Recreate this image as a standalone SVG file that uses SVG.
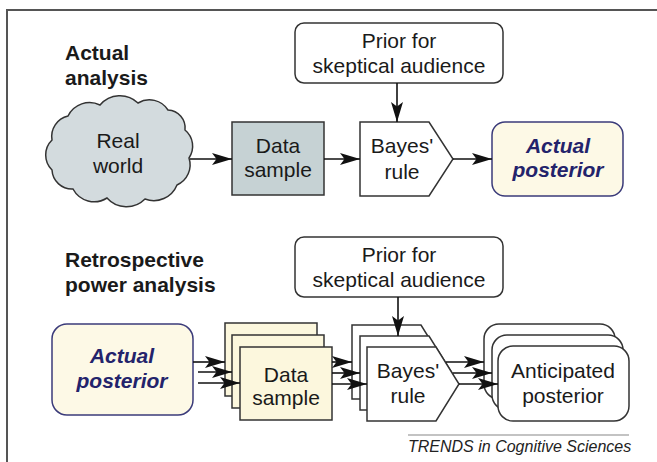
<svg xmlns="http://www.w3.org/2000/svg" width="657" height="462" viewBox="0 0 657 462">
<defs>
<marker id="ah" markerUnits="userSpaceOnUse" markerWidth="22" markerHeight="14" refX="20" refY="6" orient="auto">
<path d="M0,0 L20,6 L0,12 L4.5,6 z" fill="#111"/>
</marker>
<style>
text{font-family:"Liberation Sans",Arial,sans-serif;font-size:21px;fill:#1a1a1a;text-anchor:middle}
.h{font-weight:bold;text-anchor:start}
.ap{font-weight:bold;font-style:italic;fill:#23236b}
.box{stroke:#333;stroke-width:1.5}
.w{fill:#fff}
.gy{fill:#c6d2d4}
.yl{fill:#fcf7dd}
.post{fill:#fdf9e6;stroke:#3b3b7a;stroke-width:1.5}
.c line{stroke:#111;stroke-width:1.6;marker-end:url(#ah)}
.foot{font-size:16px;font-style:italic;text-anchor:start;fill:#222}
</style>
</defs>
<rect width="657" height="462" fill="#fff"/>
<rect x="7" y="10" width="670" height="470" fill="none" stroke="#555" stroke-width="2"/>

<text class="h" x="65" y="60">Actual</text>
<text class="h" x="65" y="85">analysis</text>
<text class="h" x="65" y="267">Retrospective</text>
<text class="h" x="65" y="292">power analysis</text>

<g id="cloud">
<path class="box" fill="#d3dbde" d="M52,140 A21,21 0 0 1 68,116 A24,24 0 0 1 100,105 A26,26 0 0 1 138,103 A22,22 0 0 1 168,110 A18,18 0 0 1 185,130 A21,21 0 0 1 189,158 A22,22 0 0 1 177,185 A25,25 0 0 1 145,199 A26,26 0 0 1 107,198 A24,24 0 0 1 73,189 A20,20 0 0 1 52,170 A21,21 0 0 1 52,140 z"/>
<text x="118" y="148">Real</text>
<text x="118" y="173">world</text>
</g>

<g id="data1">
<rect class="box gy" x="232" y="122" width="92" height="73"/>
<text x="278" y="153">Data</text>
<text x="278" y="177">sample</text>
</g>

<g id="prior1">
<rect class="box w" x="295" y="23" width="208" height="60" rx="9"/>
<text x="399" y="48">Prior for</text>
<text x="399" y="73">skeptical audience</text>
</g>

<g id="bayes1">
<path class="box w" d="M360,122 H429 L453,159 L429,196 H360 z"/>
<text x="402" y="153">Bayes'</text>
<text x="402" y="179">rule</text>
</g>

<g id="post1">
<rect class="post" x="492" y="122" width="131" height="74" rx="13"/>
<text class="ap" x="558" y="153">Actual</text>
<text class="ap" x="558" y="177">posterior</text>
</g>

<g id="prior2">
<rect class="box w" x="295" y="237" width="208" height="60" rx="9"/>
<text x="399" y="262">Prior for</text>
<text x="399" y="287">skeptical audience</text>
</g>

<g id="post2">
<rect class="post" x="52" y="324" width="141" height="91" rx="15"/>
<text class="ap" x="122" y="363">Actual</text>
<text class="ap" x="122" y="388">posterior</text>
</g>

<g id="data2">
<rect class="box yl" x="225" y="323" width="92" height="73"/>
<rect class="box yl" x="232" y="335" width="92" height="73"/>
<rect class="box yl" x="240" y="347" width="92" height="73"/>
<text x="286" y="382">Data</text>
<text x="286" y="405">sample</text>
</g>

<g id="bayes2">
<path class="box w" d="M352,325 H421 L444,362 L421,399 H352 z"/>
<path class="box w" d="M360,336 H429 L452,373 L429,410 H360 z"/>
<path class="box w" d="M367,347 H436 L459,384 L436,421 H367 z"/>
<text x="408" y="378">Bayes'</text>
<text x="408" y="403">rule</text>
</g>

<g id="antic">
<rect class="box w" x="484" y="324" width="131" height="75" rx="15"/>
<rect class="box w" x="492" y="335" width="131" height="75" rx="15"/>
<rect class="box w" x="498" y="346" width="131" height="75" rx="15"/>
<text x="563" y="378">Anticipated</text>
<text x="563" y="403">posterior</text>
</g>

<g id="connectors" class="c">
<line x1="190" y1="159" x2="232" y2="159"/>
<line x1="324" y1="159" x2="360" y2="159"/>
<line x1="453" y1="159" x2="492" y2="159"/>
<line x1="397" y1="83" x2="397" y2="122"/>
<line x1="398" y1="297" x2="398" y2="336"/>
<line x1="193" y1="362" x2="225" y2="362"/>
<line x1="198" y1="372" x2="232" y2="372"/>
<line x1="198" y1="383" x2="240" y2="383"/>
<line x1="332" y1="362" x2="352" y2="362"/>
<line x1="332" y1="373" x2="360" y2="373"/>
<line x1="332" y1="384" x2="367" y2="384"/>
<line x1="446" y1="362" x2="484" y2="362"/>
<line x1="453" y1="373" x2="492" y2="373"/>
<line x1="459" y1="384" x2="498" y2="384"/>
</g>

<line x1="408" y1="435" x2="629" y2="435" stroke="#888" stroke-width="1.2"/>
<text class="foot" x="408" y="452">TRENDS in Cognitive Sciences</text>
</svg>
